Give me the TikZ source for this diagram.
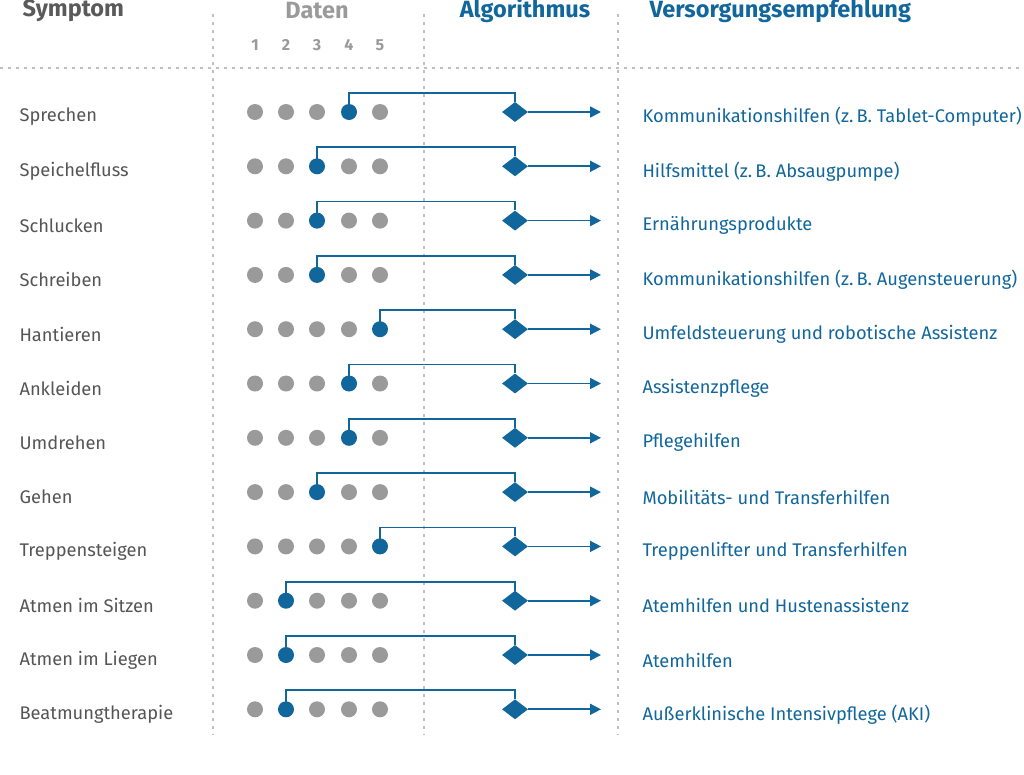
\documentclass[tikz,border=0pt]{standalone}
\usepackage{fontspec}
\setmainfont{Fira Sans}
\usetikzlibrary{shapes.geometric,arrows.meta}
\definecolor{bl}{HTML}{11669C}
\definecolor{dg}{HTML}{9A9A9A}
\definecolor{tg}{HTML}{555555}
\definecolor{hg}{HTML}{5A5A5A}
\begin{document}
\begin{tikzpicture}[x=1pt,y=-1pt,
  dot/.style={circle,fill=dg,inner sep=0pt,minimum size=16pt},
  adot/.style={circle,fill=bl,inner sep=0pt,minimum size=16pt},
  dia/.style={diamond,fill=bl,inner sep=0pt,minimum width=26pt,minimum height=20pt},
  sym/.style={anchor=west,text=tg,font=\fontsize{18.3}{21}\selectfont},
  rec/.style={anchor=west,text=bl,font=\fontsize{18.3}{21}\selectfont},
  hd/.style={font=\fontsize{23.5}{26}\selectfont\bfseries},
  num/.style={font=\fontsize{16}{18}\selectfont\bfseries,text=dg},
  con/.style={draw=bl,line width=1.7pt},
  grid/.style={draw=black!25,line width=1.2pt,dash pattern=on 3pt off 5pt}]
\useasboundingbox (0,0) rectangle (1024,774);
\node[hd,text=hg,anchor=west] (h1) at (19,11) {Symptom};
\node[hd,text=dg] (h2) at (317,11) {Daten};
\node[hd,text=bl] (h3) at (525,11) {Algorithmus};
\node[hd,text=bl,anchor=west] (h4) at (646,11) {Versorgungsempfehlung};
\foreach \i/\x in {1/255,2/286,3/317,4/349,5/380} \node[num] (n\i) at (\x,45) {\i};
\draw[grid] (0,68) -- (1024,68);
\foreach \x in {213,424,618} \draw[grid] (\x,14) -- (\x,735);
\foreach [count=\r] \s/\a/\t in {
 Sprechen/4/{Kommunikationshilfen (z.\,B. Tablet-Computer)},
 Speichelfluss/3/{Hilfsmittel (z.\,B. Absaugpumpe)},
 Schlucken/3/{Ernährungsprodukte},
 Schreiben/3/{Kommunikationshilfen (z.\,B. Augensteuerung)},
 Hantieren/5/{Umfeldsteuerung und robotische Assistenz},
 Ankleiden/4/{Assistenzpflege},
 Umdrehen/4/{Pflegehilfen},
 Gehen/3/{Mobilitäts- und Transferhilfen},
 Treppensteigen/5/{Treppenlifter und Transferhilfen},
 Atmen im Sitzen/2/{Atemhilfen und Hustenassistenz},
 Atmen im Liegen/2/{Atemhilfen},
 Beatmungtherapie/2/{Außerklinische Intensivpflege (AKI)}} {
  \pgfmathsetmacro{\y}{112+(\r-1)*54.3}
  \node[sym] (s\r) at (16,\y+5) {\s};
  \foreach \i/\x in {1/255,2/286,3/317,4/349,5/380} {
    \ifnum\i=\a \node[adot] (d\r-\i) at (\x,\y) {};
    \else \node[dot] (d\r-\i) at (\x,\y) {};\fi }
  \node[dia] (a\r) at (515,\y) {};
  \coordinate (e\r) at (601,\y);
  \node[rec] (r\r) at (639,\y+5) {\t};
  \draw[con] (d\r-\a.center) |- ([yshift=19pt]a\r.center) -- (a\r.north);
  \draw[con,-{Triangle[length=11pt,width=11pt]}] (a\r.east) -- (e\r);
}
\end{tikzpicture}
\end{document}
